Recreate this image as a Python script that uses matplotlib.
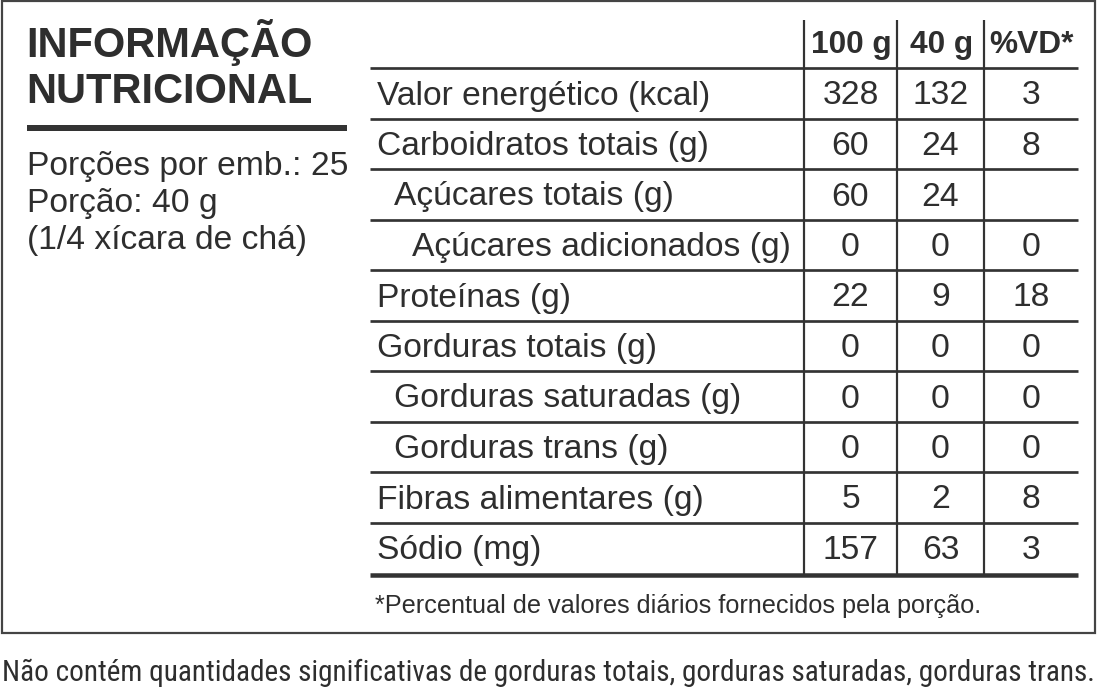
import matplotlib
matplotlib.use("Agg")
import matplotlib.pyplot as plt
from matplotlib.patches import Rectangle

# ---------------- data ----------------
title_lines = ["INFORMAÇÃO", "NUTRICIONAL"]
portion_lines = ["Porções por emb.: 25", "Porção: 40 g", "(1/4 xícara de chá)"]
col_headers = ["100 g", "40 g", "%VD*"]
row_labels = [
    "Valor energético (kcal)",
    "Carboidratos totais (g)",
    "Açúcares totais (g)",
    "Açúcares adicionados (g)",
    "Proteínas (g)",
    "Gorduras totais (g)",
    "Gorduras saturadas (g)",
    "Gorduras trans (g)",
    "Fibras alimentares (g)",
    "Sódio (mg)",
]
row_indent = [0, 0, 1, 2, 0, 0, 1, 1, 0, 0]
vals_100g = ["328", "60", "60", "0", "22", "0", "0", "0", "5", "157"]
vals_40g = ["132", "24", "24", "0", "9", "0", "0", "0", "2", "63"]
vals_vd = ["3", "8", "", "0", "18", "0", "0", "0", "8", "3"]
footnote = "*Percentual de valores diários fornecidos pela porção."
bottom_note = ("Não contém quantidades significativas de gorduras totais, "
               "gorduras saturadas, gorduras trans.")

# ---------------- layout ----------------
W, H = 1097, 692
DPI = 100
PX = 72.0 / DPI  # points per pixel
ink = "#2e2e2e"
line_c = "#333333"
FONT = ["Liberation Sans", "DejaVu Sans"]
NARROW = ["Liberation Sans Narrow", "DejaVu Sans Condensed",
          "Roboto Condensed", "Liberation Sans", "DejaVu Sans"]

fig = plt.figure(figsize=(W / DPI, H / DPI), dpi=DPI)
fig.patch.set_facecolor("white")
ax = fig.add_axes([0, 0, 1, 1])
ax.set_xlim(0, W)
ax.set_ylim(H, 0)
ax.axis("off")

# outer frame
ax.add_patch(Rectangle((2, 1), 1093, 632, fill=False, edgecolor="#444444",
                       linewidth=2.2 * PX))

# title
for i, t in enumerate(title_lines):
    ax.text(26, 57 + 46 * i, t, fontsize=30, fontweight="bold", color=ink,
            family=FONT, va="baseline", ha="left")
ax.plot([27, 347], [128, 128], color=line_c, linewidth=6 * PX,
        solid_capstyle="butt")
for i, t in enumerate(portion_lines):
    ax.text(27, 175 + 37 * i, t, fontsize=24.2, color=ink, family=FONT,
            va="baseline", ha="left")

# table geometry
tx0, tx1 = 370, 1078
col_edges = [804, 897, 984, tx1]
col_centers = [(col_edges[k] + col_edges[k + 1]) / 2 for k in range(3)]
row_top = 68
row_h = 50.5
n = len(row_labels)
bottom_y = row_top + row_h * n + 2

# header
for k, h in enumerate(col_headers):
    ax.text(col_centers[k] + 1, 53, h, fontsize=22.8, fontweight="bold",
            color=ink, family=FONT, ha="center", va="baseline")

# vertical lines
for x in col_edges[:3]:
    ax.plot([x, x], [20, bottom_y], color=line_c, linewidth=2.2 * PX,
            solid_capstyle="butt")

# horizontal lines
for k in range(n):
    y = row_top + row_h * k
    ax.plot([tx0, tx1], [y, y], color=line_c, linewidth=2.7 * PX,
            solid_capstyle="butt")
ax.plot([tx0, tx1], [bottom_y, bottom_y], color=line_c, linewidth=4.5 * PX,
        solid_capstyle="butt")

# rows
indent_px = [377, 394, 412]
for i, lab in enumerate(row_labels):
    yb = row_top + row_h * i + 36.5
    ax.text(indent_px[row_indent[i]], yb, lab, fontsize=24.2, color=ink,
            family=FONT, ha="left", va="baseline")
    for k, v in enumerate((vals_100g[i], vals_40g[i], vals_vd[i])):
        if v:
            ax.text(col_centers[k], yb, v, fontsize=24.2, color=ink,
                    family=FONT, ha="center", va="baseline")

# footnote inside frame
ax.text(375, 613, footnote, fontsize=18.2, color=ink, family=FONT,
        ha="left", va="baseline")

# bottom note (condensed) - fit to the available width
note = ax.text(2, 681, bottom_note, fontsize=22, color=ink, family=NARROW,
               ha="left", va="baseline")
renderer = fig.canvas.get_renderer()
w = note.get_window_extent(renderer=renderer).width
target = 1092.0
note.set_fontsize(22 * target / w)

fig.savefig("out.png", dpi=DPI, facecolor="white")
